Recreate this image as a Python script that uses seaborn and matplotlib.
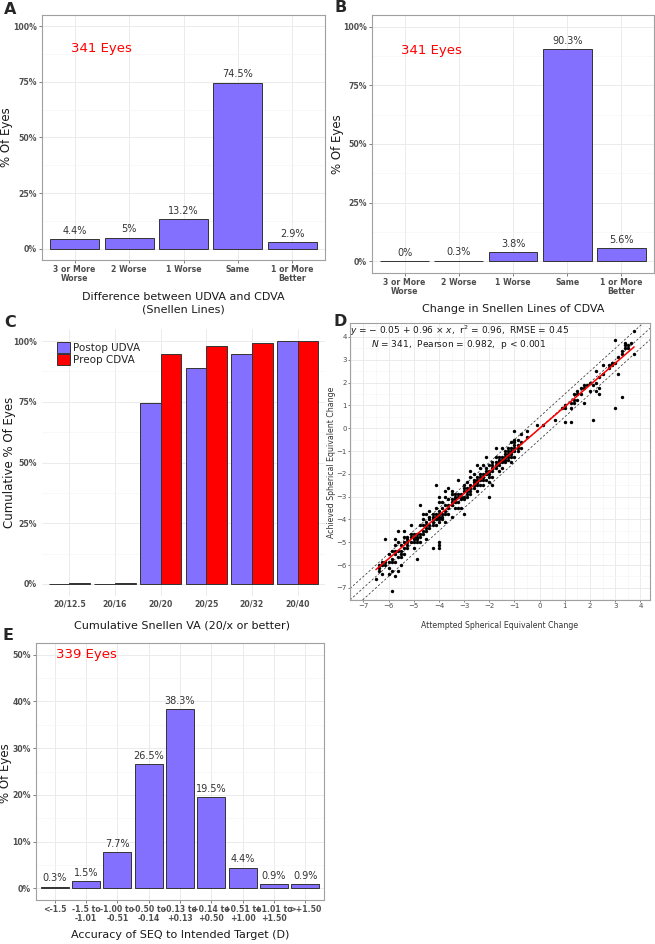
import numpy as np
import pandas as pd
import matplotlib
matplotlib.use("Agg")
import matplotlib.pyplot as plt
import matplotlib.patches as mpatches
import seaborn as sns
from matplotlib.ticker import PercentFormatter, FixedLocator

# ---------------- data ----------------
a_categories = ["3 or More\nWorse", "2 Worse", "1 Worse", "Same", "1 or More\nBetter"]
a_values = [4.4, 5, 13.2, 74.5, 2.9]

b_categories = ["3 or More\nWorse", "2 Worse", "1 Worse", "Same", "1 or More\nBetter"]
b_values = [0, 0.3, 3.8, 90.3, 5.6]

c_categories = ["20/12.5", "20/16", "20/20", "20/25", "20/32", "20/40"]
c_postop_udva = [0, 0, 74.5, 88.9, 94.7, 100]
c_preop_cdva = [0.3, 0.3, 94.7, 98.0, 99.4, 100]
c_series = ["Postop UDVA", "Preop CDVA"]

e_categories = ["<-1.5", "-1.5 to\n-1.01", "-1.00 to\n-0.51", "-0.50 to\n-0.14",
                "-0.13 to\n+0.13", "+0.14 to\n+0.50", "+0.51 to\n+1.00",
                "+1.01 to\n+1.50", ">+1.50"]
e_values = [0.3, 1.5, 7.7, 26.5, 38.3, 19.5, 4.4, 0.9, 0.9]

# Panel D: attempted SE change levels and achieved SE changes observed at each level
d_attempted_levels = [-6.5, -6.375, -6.25, -6.125, -6.0, -5.875, -5.75, -5.625, -5.5, -5.375,
                      -5.25, -5.125, -5.0, -4.875, -4.75, -4.625, -4.5, -4.375, -4.25, -4.125,
                      -4.0, -3.875, -3.75, -3.625, -3.5, -3.375, -3.25, -3.125, -3.0, -2.875,
                      -2.75, -2.625, -2.5, -2.375, -2.25, -2.125, -2.0, -1.875, -1.75, -1.625,
                      -1.5, -1.375, -1.25, -1.125, -1.0, -0.875, -0.75, -0.5, -0.125, 0.125,
                      0.625, 0.875, 1.0, 1.25, 1.375, 1.5, 1.625, 1.75, 1.875, 2.0,
                      2.125, 2.25, 2.375, 2.5, 2.75, 2.875, 3.0, 3.125, 3.25, 3.375,
                      3.5, 3.625, 3.75]
d_achieved_by_level = [
    [-6.625], [-6.0, -6.125, -6.25], [-6.0, -5.875, -6.375], [-4.875, -5.875, -6.0],
    [-6.125, -5.875, -5.5, -6.375], [-7.125, -5.375, -5.75, -5.875, -6.25],
    [-4.875, -5.125, -5.375, -5.5, -5.875, -6.5], [-4.5, -5.0, -5.375, -5.625, -6.25],
    [-5.125, -5.375, -5.5, -5.625, -6.0], [-4.5, -4.75, -5.0, -5.25, -5.5],
    [-4.75, -4.875, -5.0, -5.125, -5.25], [-4.25, -4.625, -4.75, -5.0],
    [-4.625, -4.75, -4.875, -5.0, -5.25], [-4.625, -4.75, -4.875, -5.0, -5.75],
    [-3.375, -4.25, -4.625, -4.75, -5.0], [-3.75, -4.0, -4.25, -4.5, -4.625],
    [-3.75, -4.125, -4.25, -4.375, -4.5, -4.875], [-3.625, -3.875, -4.0, -4.25, -4.375],
    [-3.75, -3.875, -4.0, -4.125, -4.25, -5.25], [-2.5, -3.5, -3.75, -3.875, -4.0, -4.25],
    [-3.0, -3.25, -3.625, -3.75, -3.875, -4.0, -4.125, -5.0, -5.125, -5.25],
    [-3.25, -3.5, -3.75, -3.875, -4.0], [-2.75, -3.0, -3.375, -3.625, -3.75, -4.125],
    [-2.625, -3.125, -3.375, -3.5, -3.75], [-2.75, -2.875, -3.125, -3.25, -3.375, -3.875],
    [-2.875, -3.0, -3.125, -3.25, -3.5], [-2.25, -2.875, -3.0, -3.25, -3.5],
    [-2.875, -3.0, -3.125, -3.5], [-2.5, -2.625, -2.75, -3.0, -3.125, -3.75],
    [-2.375, -2.625, -2.75, -2.875, -3.0], [-1.875, -2.125, -2.5, -2.625, -2.75, -2.875],
    [-2.0, -2.25, -2.375, -2.5, -2.625], [-1.625, -2.125, -2.25, -2.375, -2.5, -2.75],
    [-1.75, -2.0, -2.125, -2.25, -2.5], [-1.625, -2.0, -2.125, -2.25, -2.5],
    [-1.25, -1.75, -1.875, -2.0, -2.25], [-1.625, -1.875, -2.0, -2.125, -2.375, -3.0],
    [-1.5, -1.625, -1.75, -1.875, -2.125, -2.5], [-0.875, -1.25, -1.5, -1.625, -1.75],
    [-1.25, -1.375, -1.5, -1.625, -1.875], [-0.875, -1.25, -1.375, -1.5, -1.75],
    [-1.0, -1.125, -1.25, -1.375, -1.5], [-0.875, -1.0, -1.125, -1.25, -1.375],
    [-0.625, -0.875, -1.0, -1.125, -1.25, -1.5],
    [-0.125, -0.5, -0.625, -0.75, -0.875, -1.0, -1.25], [-0.5, -0.75, -0.875, -1.0],
    [-0.25, -0.625, -0.875], [-0.125, -0.375], [0.125], [0.125],
    [0.375], [0.875], [0.25, 0.875, 1.0], [0.25, 0.875, 1.125], [1.125, 1.25, 1.5],
    [1.25, 1.5, 1.625], [1.5, 1.75], [1.125, 1.75, 1.875], [1.875], [1.625, 2.0],
    [0.375, 1.875], [1.625, 2.0, 2.5], [1.5, 1.75, 2.25], [2.375, 2.75], [2.625, 2.75],
    [2.75, 2.875], [0.875, 2.875, 3.875], [2.375, 3.125], [1.375, 3.25, 3.375],
    [3.5, 3.625, 3.75], [3.5, 3.625], [3.75], [3.25, 4.25],
]
d_attempted = [x for x, ys in zip(d_attempted_levels, d_achieved_by_level) for _ in ys]
d_achieved = [y for ys in d_achieved_by_level for y in ys]

# ---------------- style ----------------
sns.set_theme(style="white")
plt.rcParams["font.family"] = ["DejaVu Sans"]

PURPLE = "#8470FF"
RED = "#FF0000"
EDGE = "#333333"
GRID = "#EBEBEB"
GRID_MINOR = "#F4F4F4"
TICKC = "#4D4D4D"
BORDER = "#A0A0A0"

W, H = 655, 944
fig = plt.figure(figsize=(W / 100, H / 100), dpi=100)
fig.patch.set_facecolor("white")


def add_axes(l, r, t, b):
    return fig.add_axes([l / W, 1 - b / H, (r - l) / W, (b - t) / H])


def ftext(x, y, s, **kw):
    return fig.text(x / W, 1 - y / H, s, **kw)


def style_axes(ax, border=True, ticks=True, bold=True, size=5.6, length=2.0, pad=1.5):
    ax.set_facecolor("white")
    for sp in ax.spines.values():
        sp.set_visible(border)
        sp.set_color(BORDER)
        sp.set_linewidth(0.8)
    ax.set_axisbelow(True)
    ax.grid(which="major", color=GRID, linewidth=0.7)
    ax.grid(which="minor", color=GRID_MINOR, linewidth=0.45)
    ax.tick_params(which="major", labelsize=size, labelcolor=TICKC, color=TICKC,
                   length=length if ticks else 0, width=0.5, pad=pad,
                   bottom=True, left=True)
    ax.tick_params(which="minor", length=0)
    if bold:
        for lbl in ax.get_xticklabels() + ax.get_yticklabels():
            lbl.set_fontweight("bold")
    ax.set_xlabel("")
    ax.set_ylabel("")


def bar_panel(ax, cats, vals, ylim, major, minor):
    sns.barplot(x=cats, y=vals, order=cats, color=PURPLE, saturation=1,
                edgecolor=EDGE, linewidth=0.7, width=0.9, ax=ax)
    ax.set_xlim(-0.6, len(cats) - 0.4)
    ax.set_ylim(*ylim)
    ax.yaxis.set_major_locator(FixedLocator(major))
    ax.yaxis.set_minor_locator(FixedLocator(minor))
    ax.yaxis.set_major_formatter(PercentFormatter(decimals=0))
    for cont in ax.containers:
        ax.bar_label(cont, labels=[f"{v:g}%" for v in vals], padding=2.5,
                     fontsize=7, color="#333333")
    for lbl in ax.get_xticklabels():
        lbl.set_linespacing(1.0)


# ---------------- Panel A ----------------
axA = add_axes(42, 325, 15, 260)
bar_panel(axA, a_categories, a_values, (-5, 105), [0, 25, 50, 75, 100], [12.5, 37.5, 62.5, 87.5])
style_axes(axA)
axA.text(0.5, 90, "341 Eyes", color=RED, fontsize=9.5, ha="center", va="center")
ftext(183.5, 303, "Difference between UDVA and CDVA\n(Snellen Lines)", ha="center", va="center",
      fontsize=8, color="#1A1A1A", linespacing=1.3)
ftext(7, 137, "% Of Eyes", rotation=90, ha="center", va="center", fontsize=8.5, color="#1A1A1A")
ftext(4, 9, "A", fontsize=11.5, fontweight="bold", ha="left", va="center")

# ---------------- Panel B ----------------
axB = add_axes(372, 654, 15, 273)
bar_panel(axB, b_categories, b_values, (-5, 105), [0, 25, 50, 75, 100], [12.5, 37.5, 62.5, 87.5])
style_axes(axB)
axB.text(0.5, 90, "341 Eyes", color=RED, fontsize=9.5, ha="center", va="center")
ftext(513, 309, "Change in Snellen Lines of CDVA", ha="center", va="center",
      fontsize=8, color="#1A1A1A")
ftext(337, 144, "% Of Eyes", rotation=90, ha="center", va="center", fontsize=8.5, color="#1A1A1A")
ftext(334, 8, "B", fontsize=11.5, fontweight="bold", ha="left", va="center")

# ---------------- Panel C ----------------
axC = add_axes(42, 325, 329, 596)
c_df = pd.DataFrame({
    "VA": c_categories * 2,
    "Cumulative": c_postop_udva + c_preop_cdva,
    "Type": [c_series[0]] * len(c_categories) + [c_series[1]] * len(c_categories),
})
sns.barplot(data=c_df, x="VA", y="Cumulative", hue="Type", order=c_categories,
            hue_order=c_series, palette={c_series[0]: PURPLE, c_series[1]: RED},
            saturation=1, edgecolor=EDGE, linewidth=0.7, width=0.9, ax=axC)
if axC.legend_ is not None:
    axC.legend_.remove()
axC.set_xlim(-0.6, len(c_categories) - 0.4)
axC.set_ylim(-5, 105)
axC.yaxis.set_major_locator(FixedLocator([0, 25, 50, 75, 100]))
axC.yaxis.set_minor_locator(FixedLocator([12.5, 37.5, 62.5, 87.5]))
axC.yaxis.set_major_formatter(PercentFormatter(decimals=0))
style_axes(axC, border=False, ticks=False)
axC.tick_params(axis="y", pad=3.5)
axC.tick_params(axis="x", pad=2.5)
handles = [mpatches.Patch(facecolor=PURPLE, edgecolor=EDGE, linewidth=0.7, label=c_series[0]),
           mpatches.Patch(facecolor=RED, edgecolor=EDGE, linewidth=0.7, label=c_series[1])]
axC.legend(handles=handles, loc="upper left", bbox_to_anchor=(57 / W, 1 - 342 / H),
           bbox_transform=fig.transFigure, frameon=False, fontsize=7.5,
           handlelength=1.2, handleheight=1.25, handletextpad=0.35, labelspacing=0.08,
           borderpad=0, borderaxespad=0)
ftext(182.5, 625, "Cumulative Snellen VA (20/x or better)", ha="center", va="center",
      fontsize=8, color="#1A1A1A")
ftext(10, 462, "Cumulative % Of Eyes", rotation=90, ha="center", va="center",
      fontsize=8.5, color="#1A1A1A")
ftext(4, 323, "C", fontsize=11.5, fontweight="bold", ha="left", va="center")

# ---------------- Panel D ----------------
axD = add_axes(350, 650, 323, 600)
xmin, xmax, ymin, ymax = -7.53, 4.38, -7.53, 4.61
for off in (-0.5, 0.0, 0.5):
    axD.axline((0, off), slope=1, color="#333333", linestyle=(0, (3, 2.5)), linewidth=0.55, zorder=2)
sns.scatterplot(x=d_attempted, y=d_achieved, color="black", s=6, linewidth=0,
                ax=axD, zorder=3)
sns.regplot(x=d_attempted, y=d_achieved, scatter=False, ci=None, truncate=True,
            line_kws=dict(color=RED, linewidth=1.1, zorder=4), ax=axD)
axD.set_xlim(xmin, xmax)
axD.set_ylim(ymin, ymax)
axD.xaxis.set_major_locator(FixedLocator(list(range(-7, 5))))
axD.yaxis.set_major_locator(FixedLocator(list(range(-7, 5))))
axD.xaxis.set_minor_locator(FixedLocator([v + 0.5 for v in range(-8, 5)]))
axD.yaxis.set_minor_locator(FixedLocator([v + 0.5 for v in range(-8, 5)]))
style_axes(axD, bold=False, size=5, length=1.5, pad=0.8)
ftext(350, 331, "$y$ = − 0.05 + 0.96 × $x$,  r$^2$ = 0.96,  RMSE = 0.45", ha="left",
      va="center", fontsize=6.5, color="#1A1A1A")
ftext(371, 344.5, "$N$ = 341,  Pearson = 0.982,  p < 0.001", ha="left",
      va="center", fontsize=6.5, color="#1A1A1A")
ftext(500, 625, "Attempted Spherical Equivalent Change", ha="center", va="center",
      fontsize=5.6, color="#333333")
ftext(332, 462, "Achieved Spherical Equivalent Change", rotation=90, ha="center",
      va="center", fontsize=5.6, color="#333333")
ftext(333, 322, "D", fontsize=11.5, fontweight="bold", ha="left", va="center")

# ---------------- Panel E ----------------
axE = add_axes(36, 324, 643, 900)
bar_panel(axE, e_categories, e_values, (-2.5, 52.5), [0, 10, 20, 30, 40, 50],
          [5, 15, 25, 35, 45])
style_axes(axE)
axE.text(1, 50, "339 Eyes", color=RED, fontsize=9.5, ha="center", va="center")
ftext(180, 935, "Accuracy of SEQ to Intended Target (D)", ha="center", va="center",
      fontsize=8, color="#1A1A1A")
ftext(6, 773, "% Of Eyes", rotation=90, ha="center", va="center", fontsize=8.5, color="#1A1A1A")
ftext(3, 636, "E", fontsize=11.5, fontweight="bold", ha="left", va="center")

fig.savefig("out.png", dpi=100, facecolor="white")
